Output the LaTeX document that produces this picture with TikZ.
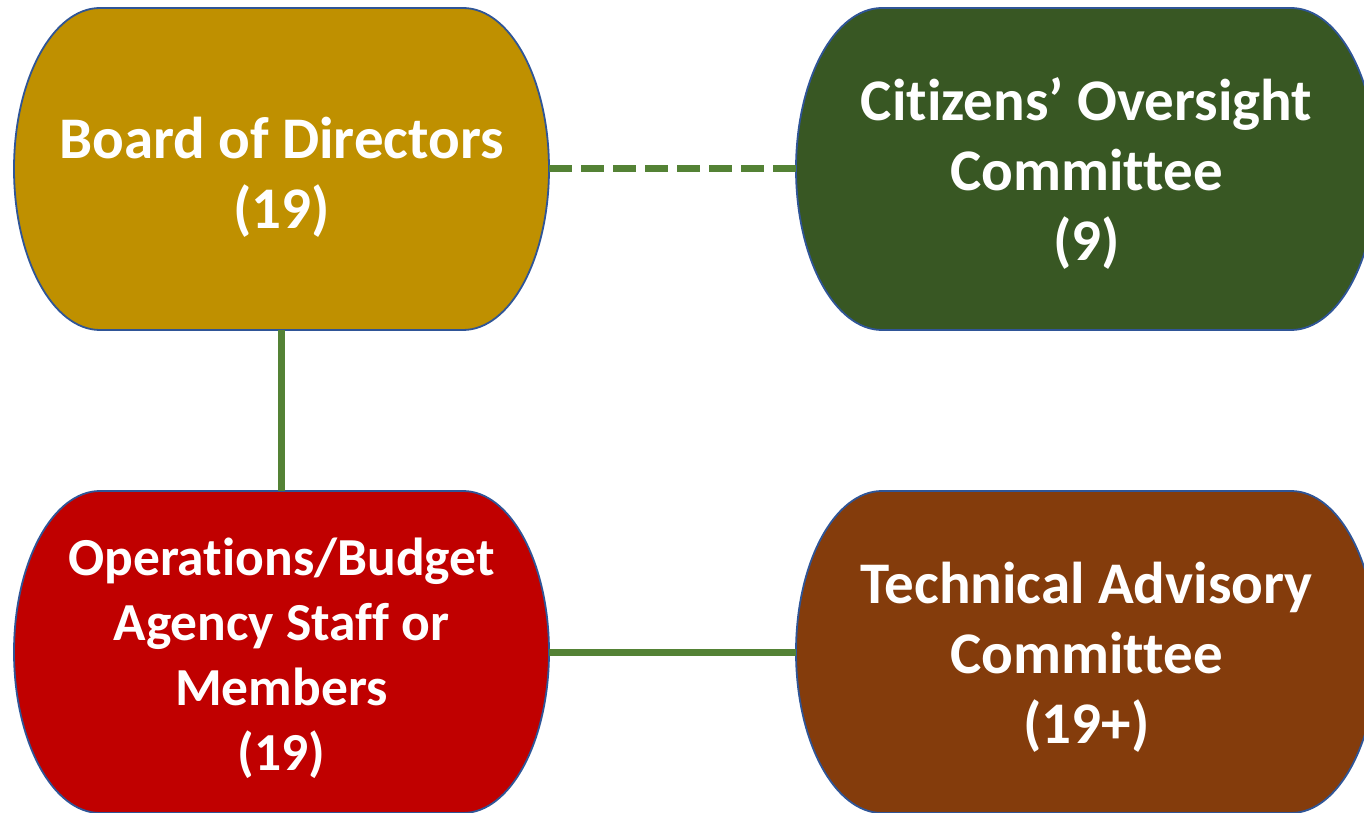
\documentclass[tikz,border=0pt]{standalone}
\usepackage{fontspec}
\setmainfont{Carlito}[Ligatures=NoCommon]
\definecolor{cBoard}{HTML}{BF9000}
\definecolor{cCit}{HTML}{385723}
\definecolor{cOps}{HTML}{C00000}
\definecolor{cTech}{HTML}{843C0C}
\definecolor{cConn}{HTML}{548235}
\definecolor{cOutl}{HTML}{2F5597}
\tikzset{
  pillshape/.style={draw=cOutl, line width=1.8pt},
  pillbox/.style={inner sep=0pt, minimum height=322pt},
  pilltext/.style={inner sep=0pt, align=center, text=white, font=\bfseries\fontsize{59}{70}\selectfont},
  conn/.style={draw=cConn, line width=7pt},
}
% #1 name, #2 cx, #3 cy, #4 width, #5 fill, #6 text, #7 text y-offset, #8 text options
\newcommand\mypill[8]{%
  \path[pillshape, fill=#5] ({#2-#4/2+86},{#3+161}) -- ({#2+#4/2-86},{#3+161})
    arc[start angle=90,end angle=-90,x radius=86,y radius=161]
    -- ({#2-#4/2+86},{#3-161})
    arc[start angle=270,end angle=90,x radius=86,y radius=161] -- cycle;
  \node[pillbox, minimum width=#4pt] (#1) at (#2,#3) {};
  \node[pilltext, #8] (#1-text) at (#2,{#3+#7}) {#6};
}
\begin{document}
\begin{tikzpicture}[x=1pt,y=1pt]
\useasboundingbox (0,0) rectangle (1364,812);
\clip (0,0) rectangle (1364,812);
\mypill{board}{281.5}{643}{535}{cBoard}{Board of Directors\\(19)}{-8}{}
\mypill{cit}{1086.5}{643}{581}{cCit}{Citizens’ Oversight\\Committee\\(9)}{-5}{}
\mypill{ops}{281.5}{160}{535}{cOps}{Operations/Budget\\Agency Staff or\\Members\\(19)}{-6}{font=\bfseries\fontsize{53.5}{65}\selectfont}
\mypill{tech}{1086.5}{160}{581}{cTech}{Technical Advisory\\Committee\\(19+)}{-5}{}
\draw[conn] (board.south) -- (ops.north);
\draw[conn, dash pattern=on 23pt off 9pt] (board.east) -- (cit.west);
\draw[conn] (ops.east) -- (tech.west);
\end{tikzpicture}
\end{document}
